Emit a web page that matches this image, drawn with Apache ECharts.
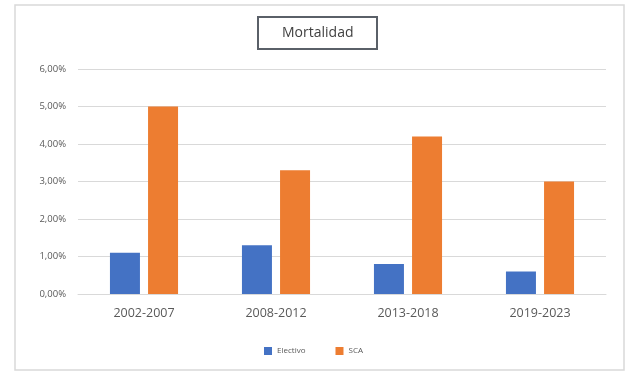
<!DOCTYPE html>
<html><head><meta charset="utf-8">
<script src="https://cdn.jsdelivr.net/npm/echarts@6/dist/echarts.min.js"></script>
<style>html,body{margin:0;padding:0;background:#fff}#c{width:627px;height:372px}</style>
</head><body><div id="c"></div>
<script>
var categories = ['2002-2007', '2008-2012', '2013-2018', '2019-2023'];
var electivo = [1.1, 1.3, 0.8, 0.6];
var sca = [5.0, 3.3, 4.2, 3.0];
var seriesNames = ['Electivo', 'SCA'];
var titleText = 'Mortalidad';

var chart = echarts.init(document.getElementById('c'));
chart.setOption({
  animation: false,
  backgroundColor: '#fff',
  graphic: [{
    type: 'rect', shape: { x: 15, y: 5, width: 609, height: 365 },
    style: { fill: 'none', stroke: '#d9d9d9', lineWidth: 1.5 }, z: -1
  }],
  title: {
    text: titleText, left: 258, top: 17,
    padding: [9, 24, 9, 24],
    borderColor: '#5a6068', borderWidth: 2,
    textStyle: { fontFamily: 'Open Sans', fontSize: 14, fontWeight: 'normal', color: '#404040' }
  },
  legend: {
    data: seriesNames, bottom: 12, left: 'center', itemWidth: 8, itemHeight: 8, itemGap: 30,
    icon: 'rect',
    textStyle: { fontFamily: 'Open Sans', fontSize: 8, color: '#595959' }
  },
  grid: { left: 78, right: 21, top: 69, bottom: 78 },
  xAxis: {
    type: 'category', data: categories,
    axisLine: { lineStyle: { color: '#d9d9d9' } },
    axisTick: { show: false },
    axisLabel: { fontFamily: 'Open Sans', fontSize: 12.5, color: '#595959', margin: 13 }
  },
  yAxis: {
    type: 'value', min: 0, max: 6, interval: 1,
    axisLine: { show: false }, axisTick: { show: false },
    splitLine: { lineStyle: { color: '#d9d9d9' } },
    axisLabel: {
      fontFamily: 'Open Sans', fontSize: 9.5, color: '#595959', margin: 12,
      formatter: function (v) { return v.toFixed(2).replace('.', ',') + '%'; }
    }
  },
  series: [
    { name: seriesNames[0], type: 'bar', data: electivo, barWidth: 30, barGap: '27%', itemStyle: { color: '#4472C4' } },
    { name: seriesNames[1], type: 'bar', data: sca, barWidth: 30, barGap: '27%', itemStyle: { color: '#ED7D31' } }
  ]
});
</script></body></html>
